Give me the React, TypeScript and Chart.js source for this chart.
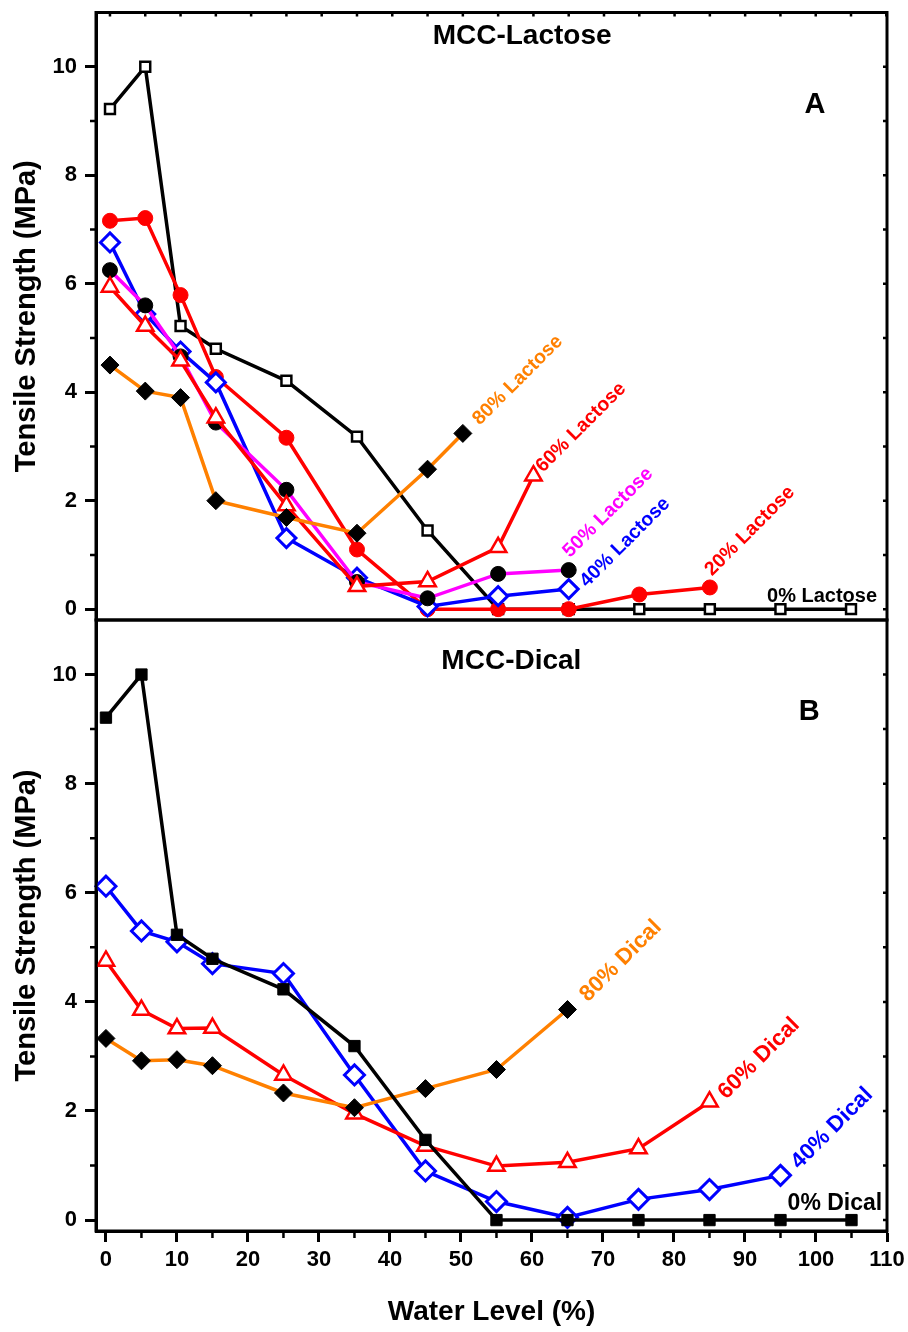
import React, { useEffect, useRef } from 'react';
import { Chart, registerables } from 'chart.js';

Chart.register(...registerables);

const FONT = '"Liberation Sans", Arial, Helvetica, sans-serif';
const BLACK = '#000000';
const RED = '#ff0000';
const BLUE = '#0000ff';
const MAGENTA = '#ff00ff';
const ORANGE = '#ff8000';
const WHITE = '#ffffff';

// ---- shared axis data ----
const yTickValues = [0, 2, 4, 6, 8, 10];
const yMinorValues = [1, 3, 5, 7, 9];
const yRightValues = [0, 1, 2, 3, 4, 5, 6, 7, 8, 9, 10];
const xTickValues = [0, 10, 20, 30, 40, 50, 60, 70, 80, 90, 100, 110];
const xMinorValues = [5, 15, 25, 35, 45, 55, 65, 75, 85, 95, 105];
const xTopValues = [0, 5, 10, 15, 20, 25, 30, 35, 40, 45, 50, 55, 60, 65, 70, 75, 80, 85, 90, 95, 100, 105, 110];

// ---- Panel A : MCC-Lactose ----
const lac0X = [0, 5, 10, 15, 25, 35, 45, 55, 65, 75, 85, 95, 105];
const lac0Y = [9.22, 10.0, 5.22, 4.8, 4.21, 3.18, 1.45, 0, 0, 0, 0, 0, 0];
const lac20X = [0, 5, 10, 15, 25, 35, 45, 55, 65, 75, 85];
const lac20Y = [7.16, 7.21, 5.79, 4.28, 3.16, 1.1, 0, 0, 0, 0.27, 0.4];
const lac40X = [0, 5, 10, 15, 25, 35, 45, 55, 65];
const lac40Y = [6.76, 5.44, 4.75, 4.18, 1.31, 0.58, 0.05, 0.24, 0.37];
const lac50X = [0, 5, 10, 15, 25, 35, 45, 55, 65];
const lac50Y = [6.25, 5.6, 4.66, 3.44, 2.2, 0.5, 0.2, 0.65, 0.72];
const lac60X = [0, 5, 10, 15, 25, 35, 45, 55, 60];
const lac60Y = [5.94, 5.22, 4.58, 3.53, 1.91, 0.42, 0.51, 1.14, 2.46];
const lac80X = [0, 5, 10, 15, 25, 35, 45, 50];
const lac80Y = [4.5, 4.02, 3.9, 2.0, 1.69, 1.4, 2.58, 3.24];

// ---- Panel B : MCC-Dical ----
const dic0X = [0, 5, 10, 15, 25, 35, 45, 55, 65, 75, 85, 95, 105];
const dic0Y = [9.21, 10.0, 5.23, 4.79, 4.23, 3.19, 1.47, 0, 0, 0, 0, 0, 0];
const dic40X = [0, 5, 10, 15, 25, 35, 45, 55, 65, 75, 85, 95];
const dic40Y = [6.12, 5.3, 5.1, 4.7, 4.52, 2.66, 0.9, 0.34, 0.05, 0.38, 0.56, 0.82];
const dic60X = [0, 5, 10, 15, 25, 35, 45, 55, 65, 75, 85];
const dic60Y = [4.75, 3.85, 3.51, 3.52, 2.66, 1.95, 1.36, 0.99, 1.06, 1.31, 2.17];
const dic80X = [0, 5, 10, 15, 25, 35, 45, 55, 65];
const dic80Y = [3.33, 2.92, 2.94, 2.83, 2.33, 2.06, 2.41, 2.76, 3.86];

// ---- text annotations (anchored in data coordinates) ----
type Note = { text: string; x: number; y: number; color: string; size: number; rot: number; align: CanvasTextAlign; baseline: CanvasTextBaseline };
const topNotes: Note[] = [
  { text: 'MCC-Lactose', x: 58.4, y: 10.57, color: BLACK, size: 28, rot: 0, align: 'center', baseline: 'middle' },
  { text: 'A', x: 99.9, y: 9.3, color: BLACK, size: 29, rot: 0, align: 'center', baseline: 'middle' },
  { text: '80% Lactose', x: 52.4, y: 3.38, color: ORANGE, size: 19.5, rot: -45, align: 'left', baseline: 'alphabetic' },
  { text: '60% Lactose', x: 61.36, y: 2.51, color: RED, size: 19.5, rot: -45, align: 'left', baseline: 'alphabetic' },
  { text: '50% Lactose', x: 65.2, y: 0.94, color: MAGENTA, size: 19.5, rot: -45, align: 'left', baseline: 'alphabetic' },
  { text: '40% Lactose', x: 67.6, y: 0.39, color: BLUE, size: 19.5, rot: -45, align: 'left', baseline: 'alphabetic' },
  { text: '20% Lactose', x: 85.3, y: 0.6, color: RED, size: 19.5, rot: -45, align: 'left', baseline: 'alphabetic' },
  { text: '0% Lactose', x: 93.1, y: 0.24, color: BLACK, size: 20, rot: 0, align: 'left', baseline: 'middle' },
];
const bottomNotes: Note[] = [
  { text: 'MCC-Dical', x: 57.1, y: 10.24, color: BLACK, size: 28, rot: 0, align: 'center', baseline: 'middle' },
  { text: 'B', x: 99.05, y: 9.32, color: BLACK, size: 29, rot: 0, align: 'center', baseline: 'middle' },
  { text: '80% Dical', x: 67.9, y: 3.99, color: ORANGE, size: 22.5, rot: -45, align: 'left', baseline: 'alphabetic' },
  { text: '60% Dical', x: 87.36, y: 2.2, color: RED, size: 22.5, rot: -45, align: 'left', baseline: 'alphabetic' },
  { text: '40% Dical', x: 97.65, y: 0.92, color: BLUE, size: 22.5, rot: -45, align: 'left', baseline: 'alphabetic' },
  { text: '0% Dical', x: 96.0, y: 0.31, color: BLACK, size: 23, rot: 0, align: 'left', baseline: 'middle' },
];

const decoPlugin = {
  id: 'deco',
  afterDatasetsDraw(chart: any, _args: any, opts: any) {
    const { ctx, chartArea: a, scales } = chart;
    const xs = scales.x;
    const ys = scales.y;
    ctx.save();
    ctx.strokeStyle = BLACK;
    ctx.lineWidth = 3;
    ctx.strokeRect(a.left, a.top, a.right - a.left, a.bottom - a.top);
    ctx.lineWidth = 2.5;
    ctx.beginPath();
    for (const v of opts.minorY || []) {
      const py = ys.getPixelForValue(v);
      ctx.moveTo(a.left - 6, py);
      ctx.lineTo(a.left, py);
    }
    for (const v of opts.rightY || []) {
      const py = ys.getPixelForValue(v);
      ctx.moveTo(a.right - 4, py);
      ctx.lineTo(a.right + 1, py);
    }
    for (const v of opts.topX || []) {
      const px = xs.getPixelForValue(v);
      ctx.moveTo(px, a.top);
      ctx.lineTo(px, a.top + 4);
    }
    for (const v of opts.minorX || []) {
      const px = xs.getPixelForValue(v);
      ctx.moveTo(px, a.bottom);
      ctx.lineTo(px, a.bottom + 7);
    }
    ctx.stroke();
    for (const n of (opts.notes || []) as Note[]) {
      const px = xs.getPixelForValue(n.x);
      const py = ys.getPixelForValue(n.y);
      ctx.save();
      ctx.translate(px, py);
      ctx.rotate((n.rot * Math.PI) / 180);
      ctx.font = `bold ${n.size}px ${FONT}`;
      ctx.fillStyle = n.color;
      ctx.textAlign = n.align;
      ctx.textBaseline = n.baseline;
      ctx.fillText(n.text, 0, 0);
      ctx.restore();
    }
    ctx.restore();
  },
};

function series(label: string, xs: number[], ys: number[], line: string, style: string, radius: number, fill: string, stroke: string, bw: number) {
  return {
    label,
    data: xs.map((x, i) => ({ x, y: ys[i] })),
    borderColor: line,
    backgroundColor: line,
    borderWidth: 3.5,
    pointStyle: style,
    pointRadius: radius,
    pointHoverRadius: radius,
    pointBackgroundColor: fill,
    pointBorderColor: stroke,
    pointBorderWidth: bw,
    fill: false,
    tension: 0,
    clip: 12,
  };
}

const tickFont = { family: FONT, size: 22, weight: 'bold' as const };
const titleFont = { family: FONT, size: 28, weight: 'bold' as const, lineHeight: 1 };
const yTitleFont = { family: FONT, size: 29, weight: 'bold' as const, lineHeight: 1 };

function yScale() {
  return {
    type: 'linear' as const,
    position: 'left' as const,
    min: -0.2,
    max: 11,
    afterBuildTicks: (s: any) => {
      s.ticks = yTickValues.map((v) => ({ value: v }));
    },
    afterFit: (s: any) => {
      s.width = 96;
      s.paddingTop = 0;
      s.paddingBottom = 0;
    },
    grid: { drawOnChartArea: false, drawTicks: true, tickLength: 11, tickWidth: 3, tickColor: BLACK },
    border: { display: true, width: 3, color: BLACK },
    ticks: { font: tickFont, color: BLACK, padding: 8 },
    title: { display: true, text: 'Tensile Strength (MPa)', font: yTitleFont, color: BLACK, padding: { top: 12, bottom: 0 } },
  };
}

function baseOptions() {
  return {
    responsive: true,
    maintainAspectRatio: false,
    animation: false as const,
    events: [] as any[],
  };
}

export default function App() {
  const topRef = useRef<HTMLCanvasElement>(null);
  const botRef = useRef<HTMLCanvasElement>(null);

  useEffect(() => {
    const top = new Chart(topRef.current as HTMLCanvasElement, {
      type: 'line',
      data: {
        datasets: [
          series('80% Lactose', lac80X, lac80Y, ORANGE, 'rectRot', 9, BLACK, BLACK, 1),
          series('60% Lactose', lac60X, lac60Y, RED, 'triangle', 9.5, WHITE, RED, 2.5),
          series('50% Lactose', lac50X, lac50Y, MAGENTA, 'circle', 7.5, BLACK, BLACK, 1),
          series('40% Lactose', lac40X, lac40Y, BLUE, 'rectRot', 9.5, WHITE, BLUE, 3),
          series('20% Lactose', lac20X, lac20Y, RED, 'circle', 7.5, RED, RED, 1),
          series('0% Lactose', lac0X, lac0Y, BLACK, 'rect', 7, WHITE, BLACK, 2.5),
        ] as any,
      },
      options: {
        ...baseOptions(),
        layout: { padding: { left: 0, right: 21, top: 10, bottom: 20 } },
        scales: {
          x: { type: 'linear', display: false, min: -1.98, max: 110.1 },
          y: yScale(),
        },
        plugins: {
          legend: { display: false },
          tooltip: { enabled: false },
          deco: { minorY: yMinorValues, rightY: yRightValues, topX: xTopValues, notes: topNotes },
        },
      } as any,
      plugins: [decoPlugin],
    });

    const bot = new Chart(botRef.current as HTMLCanvasElement, {
      type: 'line',
      data: {
        datasets: [
          series('0% Dical', dic0X, dic0Y, BLACK, 'rect', 8, BLACK, BLACK, 1),
          series('80% Dical', dic80X, dic80Y, ORANGE, 'rectRot', 9, BLACK, BLACK, 1),
          series('60% Dical', dic60X, dic60Y, RED, 'triangle', 9.5, WHITE, RED, 2.5),
          series('40% Dical', dic40X, dic40Y, BLUE, 'rectRot', 10, WHITE, BLUE, 3),
        ] as any,
      },
      options: {
        ...baseOptions(),
        layout: { padding: { left: 0, right: 21, top: 20, bottom: 0 } },
        scales: {
          x: {
            type: 'linear',
            position: 'bottom',
            min: -1.4,
            max: 110,
            afterBuildTicks: (s: any) => {
              s.ticks = xTickValues.map((v) => ({ value: v }));
            },
            afterFit: (s: any) => {
              s.height = 101;
              s.paddingLeft = 0;
              s.paddingRight = 0;
            },
            grid: { drawOnChartArea: false, drawTicks: true, tickLength: 11, tickWidth: 3, tickColor: BLACK },
            border: { display: true, width: 3, color: BLACK },
            ticks: { font: tickFont, color: BLACK, padding: 5, maxRotation: 0, autoSkip: false },
            title: { display: true, text: 'Water Level (%)', font: titleFont, color: BLACK, padding: { top: 0, bottom: 6 } },
          },
          y: yScale(),
        },
        plugins: {
          legend: { display: false },
          tooltip: { enabled: false },
          deco: { minorY: yMinorValues, rightY: yRightValues, minorX: xMinorValues, notes: bottomNotes },
        },
      } as any,
      plugins: [decoPlugin],
    });

    return () => {
      top.destroy();
      bot.destroy();
    };
  }, []);

  return (
    <div style={{ position: 'absolute', left: 0, top: 0, width: 908, height: 1332, background: '#ffffff' }}>
      <div style={{ position: 'absolute', left: 0, top: 0, width: 908, height: 640 }}>
        <canvas ref={topRef} />
      </div>
      <div style={{ position: 'absolute', left: 0, top: 600, width: 908, height: 732 }}>
        <canvas ref={botRef} />
      </div>
    </div>
  );
}
